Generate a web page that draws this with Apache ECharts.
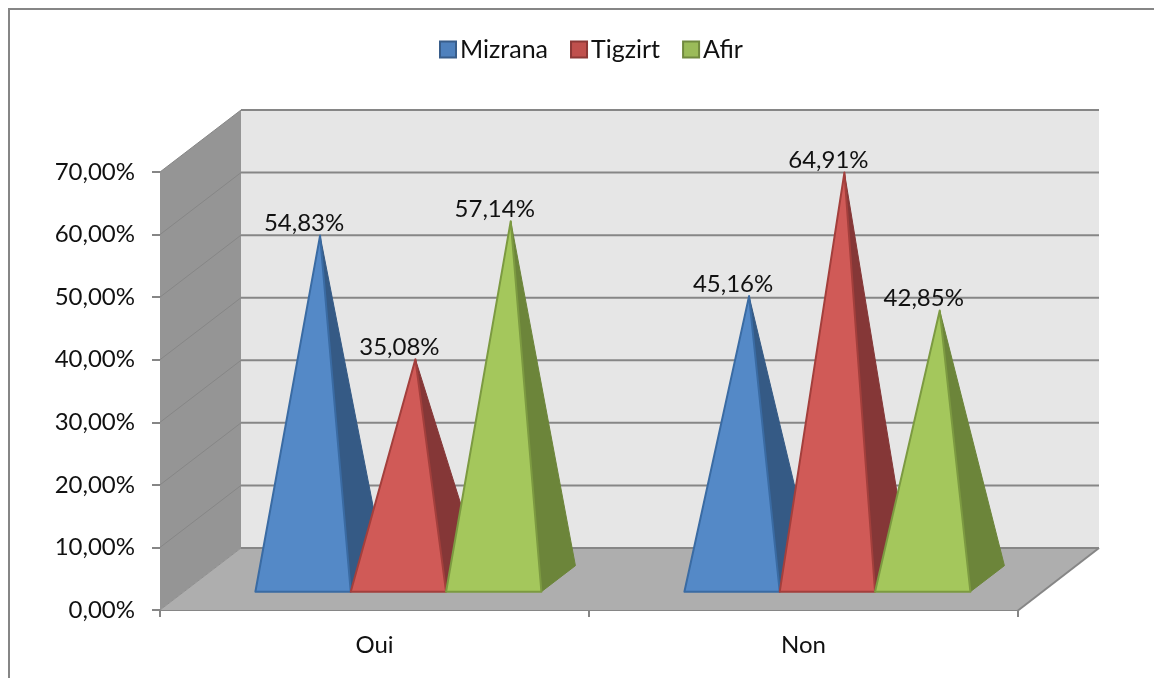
<!DOCTYPE html>
<html><head><meta charset="utf-8">
<style>html,body{margin:0;padding:0;background:#fff}#c{width:1154px;height:678px}</style>
<script src="https://cdn.jsdelivr.net/npm/echarts@6/dist/echarts.min.js"></script>
</head><body><div id="c"></div>
<script>
const categories = ['Oui', 'Non'];
const mizrana = [54.83, 45.16];
const tigzirt = [35.08, 64.91];
const afir = [57.14, 42.85];
const yTicks = [0, 10, 20, 30, 40, 50, 60, 70];

const FONT = 'Lato';
const DEPTH_X = 81, DEPTH_Y = 62;       // wall depth in pixels
const FRONT = 0.295, BACK = 0.715;      // pyramid footprint within the depth
const GAP = 1.5;                        // gap width, in units of one bar

const fmt = v => v.toFixed(2).replace('.', ',') + '%';

function walls(params, api) {
  const cs = params.coordSys;
  const L = cs.x, R = cs.x + cs.width;
  const y = v => api.coord([0, v])[1];
  const line = '#868686';
  const kids = [
    {type:'polygon', shape:{points:[[L+DEPTH_X,y(70)-DEPTH_Y],[R+DEPTH_X,y(70)-DEPTH_Y],[R+DEPTH_X,y(0)-DEPTH_Y],[L+DEPTH_X,y(0)-DEPTH_Y]]}, style:{fill:'#e6e6e6'}},
    {type:'polygon', shape:{points:[[L,y(70)],[L+DEPTH_X,y(70)-DEPTH_Y],[L+DEPTH_X,y(0)-DEPTH_Y],[L,y(0)]]}, style:{fill:'#959595'}},
    {type:'polygon', shape:{points:[[L,y(0)],[L+DEPTH_X,y(0)-DEPTH_Y],[R+DEPTH_X,y(0)-DEPTH_Y],[R,y(0)]]}, style:{fill:'#aeaeae'}},
    {type:'polyline', shape:{points:[[R,y(0)+0.5],[R+DEPTH_X,y(0)-DEPTH_Y]]}, style:{stroke:line, lineWidth:2, fill:null}}
  ];
  yTicks.forEach(v => {
    kids.push({type:'polyline', shape:{points:[[L+DEPTH_X,y(v)-DEPTH_Y],[R+DEPTH_X,y(v)-DEPTH_Y]]}, style:{stroke:line, lineWidth:2, fill:null}});
    kids.push({type:'polyline', shape:{points:[[L,y(v)],[L+DEPTH_X,y(v)-DEPTH_Y]]}, style:{stroke:v===0?'#8f8f8f':line, lineWidth:1, fill:null}});
  });
  return {type:'group', children:kids};
}

function pyramid(slot, front, side, edge) {
  return function (params, api) {
    const cat = api.value(0), val = api.value(1);
    const base = api.coord([cat, 0]);
    const top = api.coord([cat, val]);
    const band = api.size([1, 0])[0];
    const w = band / (3 + GAP);
    const left = base[0] - band / 2 + (band - 3 * w) / 2 + slot * w + FRONT * DEPTH_X;
    const right = left + w;
    const yF = base[1] - FRONT * DEPTH_Y;
    const rx = right + (BACK - FRONT) * DEPTH_X, ry = base[1] - BACK * DEPTH_Y;
    const ax = (left + right) / 2 + (BACK - FRONT) * DEPTH_X / 2;
    const ay = top[1] - (FRONT + BACK) / 2 * DEPTH_Y;
    return {type:'group', children:[
      {type:'polygon', shape:{points:[[right,yF],[rx,ry],[ax,ay]]}, style:{fill:side, stroke:side, lineWidth:1, lineJoin:'round'}},
      {type:'polygon', shape:{points:[[left,yF],[right,yF],[ax,ay]]}, style:{fill:front, stroke:edge, lineWidth:2, lineJoin:'round'}},
      {type:'text', style:{text:fmt(val), x:ax-16, y:ay-12, align:'center', verticalAlign:'middle', font:'24px '+FONT, fill:'#111'}, z2:10}
    ]};
  };
}

function pts(vals) { return vals.map((v, i) => [i, v]); }
const seriesDefs = [
  {name:'Mizrana', data:mizrana, front:'#5489c7', side:'#355a85', edge:'#3a6ba3', legend:'#4f81bd', lb:'#385d8a'},
  {name:'Tigzirt', data:tigzirt, front:'#d05a57', side:'#853737', edge:'#a33f3c', legend:'#c0504d', lb:'#8c3836'},
  {name:'Afir', data:afir, front:'#a4c75c', side:'#6c853a', edge:'#7c9a41', legend:'#9bbb59', lb:'#71893f'}
];

const chart = echarts.init(document.getElementById('c'), null, {renderer:'canvas'});
chart.setOption({
  animation:false,
  backgroundColor:'#fff',
  graphic:[{type:'polyline', shape:{points:[[9,678],[9,9],[1154,9]]}, style:{stroke:'#868686', lineWidth:2, fill:null}, silent:true}],
  legend:{
    data:seriesDefs.map(s => s.name), left:434, top:32, icon:'rect', itemWidth:16, itemHeight:16, itemGap:22,
    selectedMode:false, textStyle:{fontFamily:FONT, fontSize:25, color:'#111', padding:[0,0,0,-1]}
  },
  grid:{left:160, width:858, top:172, height:438},
  xAxis:{type:'category', data:categories, boundaryGap:true,
    axisLine:{show:true, lineStyle:{color:'#868686', width:2}},
    axisTick:{show:true, length:7, lineStyle:{color:'#868686', width:2}},
    axisLabel:{fontFamily:FONT, fontSize:24, color:'#111', margin:23},
    splitLine:{show:false}},
  yAxis:{type:'value', min:0, max:70, interval:10,
    axisLine:{show:false},
    axisTick:{show:true, length:8, lineStyle:{color:'#868686', width:2}},
    axisLabel:{fontFamily:FONT, fontSize:24, color:'#111', margin:25, padding:[6,0,0,0], formatter:v => fmt(v)},
    splitLine:{show:false}},
  series:[
    {type:'custom', name:'walls', silent:true, z:1, renderItem:walls, data:[[0,0]], encode:{x:0,y:1}}
  ].concat(seriesDefs.map((s,i) => ({
    type:'custom', name:s.name, z:3+i, silent:true, renderItem:pyramid(i,s.front,s.side,s.edge),
    data:pts(s.data), encode:{x:0,y:1},
    itemStyle:{color:s.legend, borderColor:s.lb, borderWidth:2}
  })))
});
</script></body></html>
